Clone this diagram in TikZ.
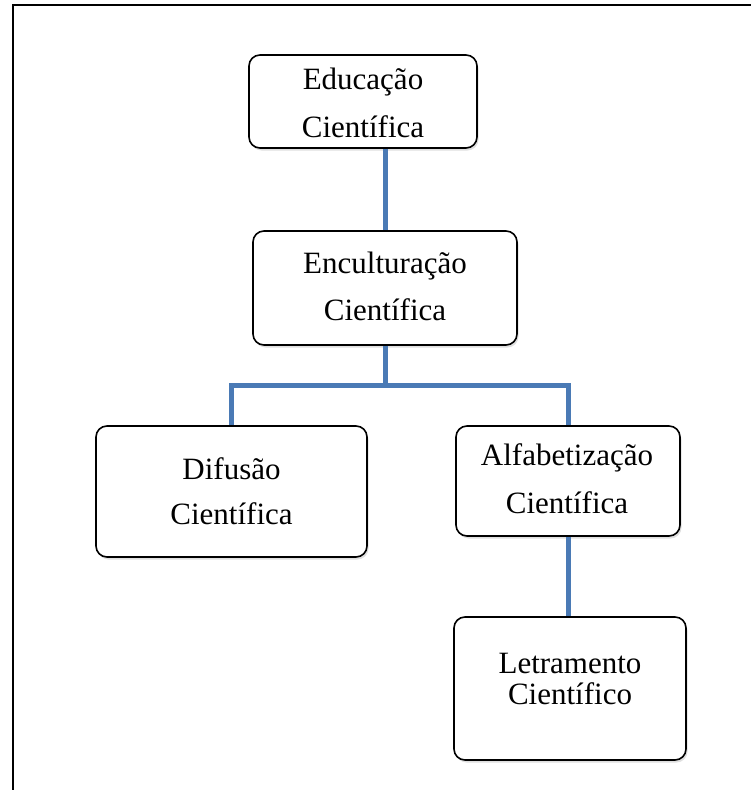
\documentclass[tikz,border=0pt]{standalone}
\usepackage{fontspec}
\setmainfont{Liberation Serif}
\usetikzlibrary{shadows}
\definecolor{linkblue}{HTML}{4A7AB5}
\tikzset{
  box/.style={draw=black, line width=1.6pt, rounded corners=11pt, fill=white,
    inner sep=0pt,
    drop shadow={opacity=0.25, shadow xshift=1.5pt, shadow yshift=-2.5pt}},
  label/.style={anchor=base, inner sep=0pt,
    font=\fontsize{31}{36}\selectfont},
  link/.style={draw=linkblue, line width=5pt},
  frame/.style={draw=black, line width=2pt}
}
\begin{document}
\begin{tikzpicture}[x=1pt, y=-1pt]
  \useasboundingbox (0,0) rectangle (751,790);
  % page frame (top and left edges)
  \draw[frame] (12.5,790) -- (12.5,5) -- (751,5);

  % boxes
  \node[box, minimum width=228pt, minimum height=93pt] (edu) at (363,101.5) {};
  \node[box, minimum width=264pt, minimum height=114pt] (enc) at (385,288) {};
  \node[box, minimum width=271pt, minimum height=131pt] (dif) at (231.5,491.5) {};
  \node[box, minimum width=224pt, minimum height=110pt] (alf) at (568,481) {};
  \node[box, minimum width=232pt, minimum height=143pt] (let) at (570,688.5) {};

  % connectors
  \draw[link] (enc.north |- edu.south) -- (enc.north);
  \coordinate (fork) at (385,385);
  \draw[link] (enc.south) -- (fork);
  \draw[link] (dif.north) -- (dif.north |- fork) -- (alf.north |- fork) -- (alf.north);
  \draw[link] (alf.south) -- (alf.south |- let.north);

  % labels
  \node[label] (edu1) at (363,89.5) {Educação};
  \node[label] (edu2) at (363,137) {Científica};
  \node[label] (enc1) at (385,273) {Enculturação};
  \node[label] (enc2) at (385,320) {Científica};
  \node[label] (dif1) at (231.5,479) {Difusão};
  \node[label] (dif2) at (231.5,524) {Científica};
  \node[label] (alf1) at (567,465) {Alfabetização};
  \node[label] (alf2) at (567,513) {Científica};
  \node[label] (let1) at (570,673) {Letramento};
  \node[label] (let2) at (570,704) {Científico};
\end{tikzpicture}
\end{document}
